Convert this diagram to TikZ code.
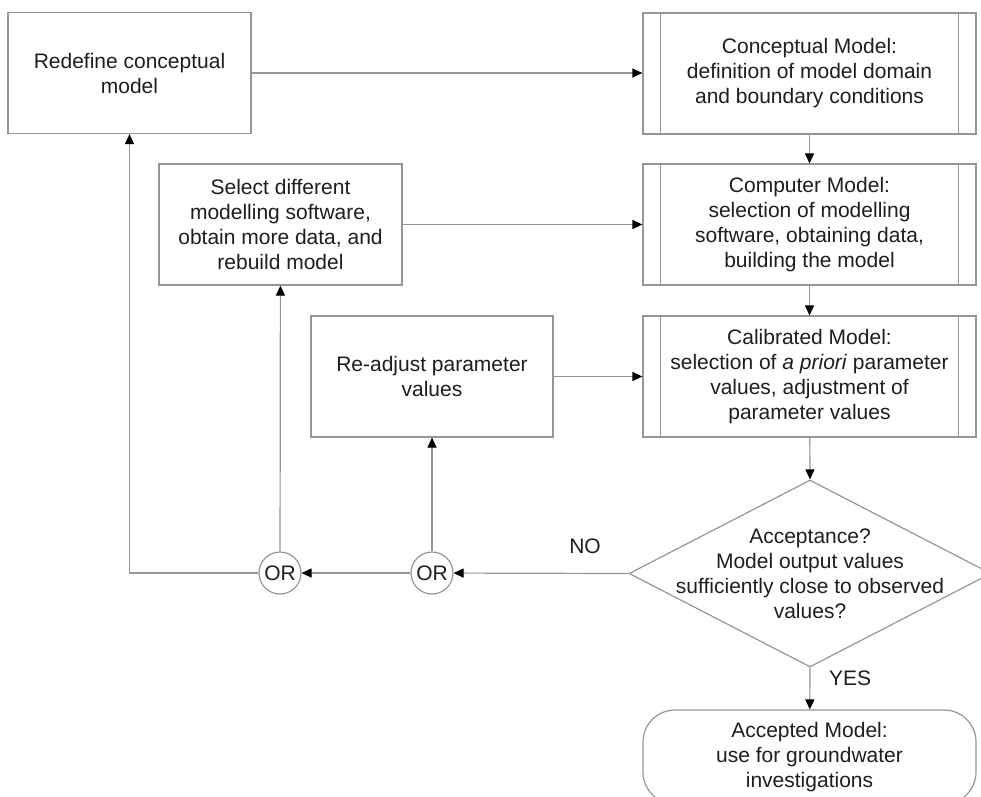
\documentclass[tikz,border=0pt]{standalone}
\usepackage{fontspec}
\setmainfont{Liberation Sans}
\usetikzlibrary{arrows.meta,shapes.geometric}

\definecolor{linegray}{RGB}{150,150,150}
\definecolor{textgray}{RGB}{30,30,30}

\begin{document}
\begin{tikzpicture}[x=1pt, y=-1pt,
    font=\fontsize{21}{25}\selectfont,
    box/.style={draw=linegray, line width=1.2pt, fill=white, text=textgray, align=center, inner sep=0pt, minimum width=243pt, minimum height=121pt},
    mbox/.style={box, minimum width=333pt},
    orc/.style={draw=linegray, line width=1.2pt, circle, fill=white, text=textgray, inner sep=0pt, minimum size=42pt},
    arr/.style={draw=linegray, line width=1.2pt, -{Triangle[black,length=10pt,width=9pt]}},
    lbl/.style={text=textgray}]

\useasboundingbox (0,0) rectangle (981,796);

% Right column: model stages
\node[mbox] (M1) at (809.5,73.5) {Conceptual Model:\\definition of model domain\\and boundary conditions};
\node[mbox] (M2) at (809.5,224.5) {Computer Model:\\selection of modelling\\software, obtaining data,\\building the model};
\node[mbox] (M3) at (809.5,376.5) {Calibrated Model:\\selection of \textit{a priori} parameter\\values, adjustment of\\parameter values};

% inner side bars of the model boxes
\foreach \i in {1,2,3} {
    \draw[linegray, line width=1.2pt] ([xshift=18pt]M\i.north west) -- ([xshift=18pt]M\i.south west);
    \draw[linegray, line width=1.2pt] ([xshift=-18pt]M\i.north east) -- ([xshift=-18pt]M\i.south east);
}

% Decision and end
\node[diamond, draw=linegray, line width=1.2pt, inner sep=0pt, minimum width=362pt, minimum height=187pt] (D) at (810,573.5) {};
\node[lbl, align=center] (Dtxt) at (D.center) {Acceptance?\\Model output values\\sufficiently close to observed\\values?};
\node[mbox, rounded corners=32pt, minimum height=94pt] (E) at (809.5,757) {Accepted Model:\\use for groundwater\\investigations};

% Left side: feedback boxes
\node[box] (R1) at (129.5,73) {Redefine conceptual\\model};
\node[box] (S) at (280.5,224.5) {Select different\\modelling software,\\obtain more data, and\\rebuild model};
\node[box, minimum width=242pt] (A) at (432,376.5) {Re-adjust parameter\\values};

% OR gates
\node[orc] (OR1) at (280,573) {OR};
\node[orc] (OR2) at (432,573) {OR};

% Main flow
\draw[arr] (M1) -- (M2);
\draw[arr] (M2) -- (M3);
\draw[arr] (M3) -- (D.north);
\draw[arr] (D.south) -- (E);

% Feedback arrows
\draw[arr] (R1.east) -- (R1.east -| M1.west);
\draw[arr] (S.east) -- (S.east -| M2.west);
\draw[arr] (A.east) -- (A.east -| M3.west);
\draw[arr] (D.west) -- (OR2);
\draw[arr] (OR2) -- (OR1);
\draw[arr] (OR2) -- (A);
\draw[arr] (OR1) -- (S);
\draw[arr] (OR1.west) -| (R1.south);

% Branch labels
\node[lbl] (no) at (585,546) {NO};
\node[lbl] (yes) at (850,678) {YES};

\end{tikzpicture}
\end{document}
